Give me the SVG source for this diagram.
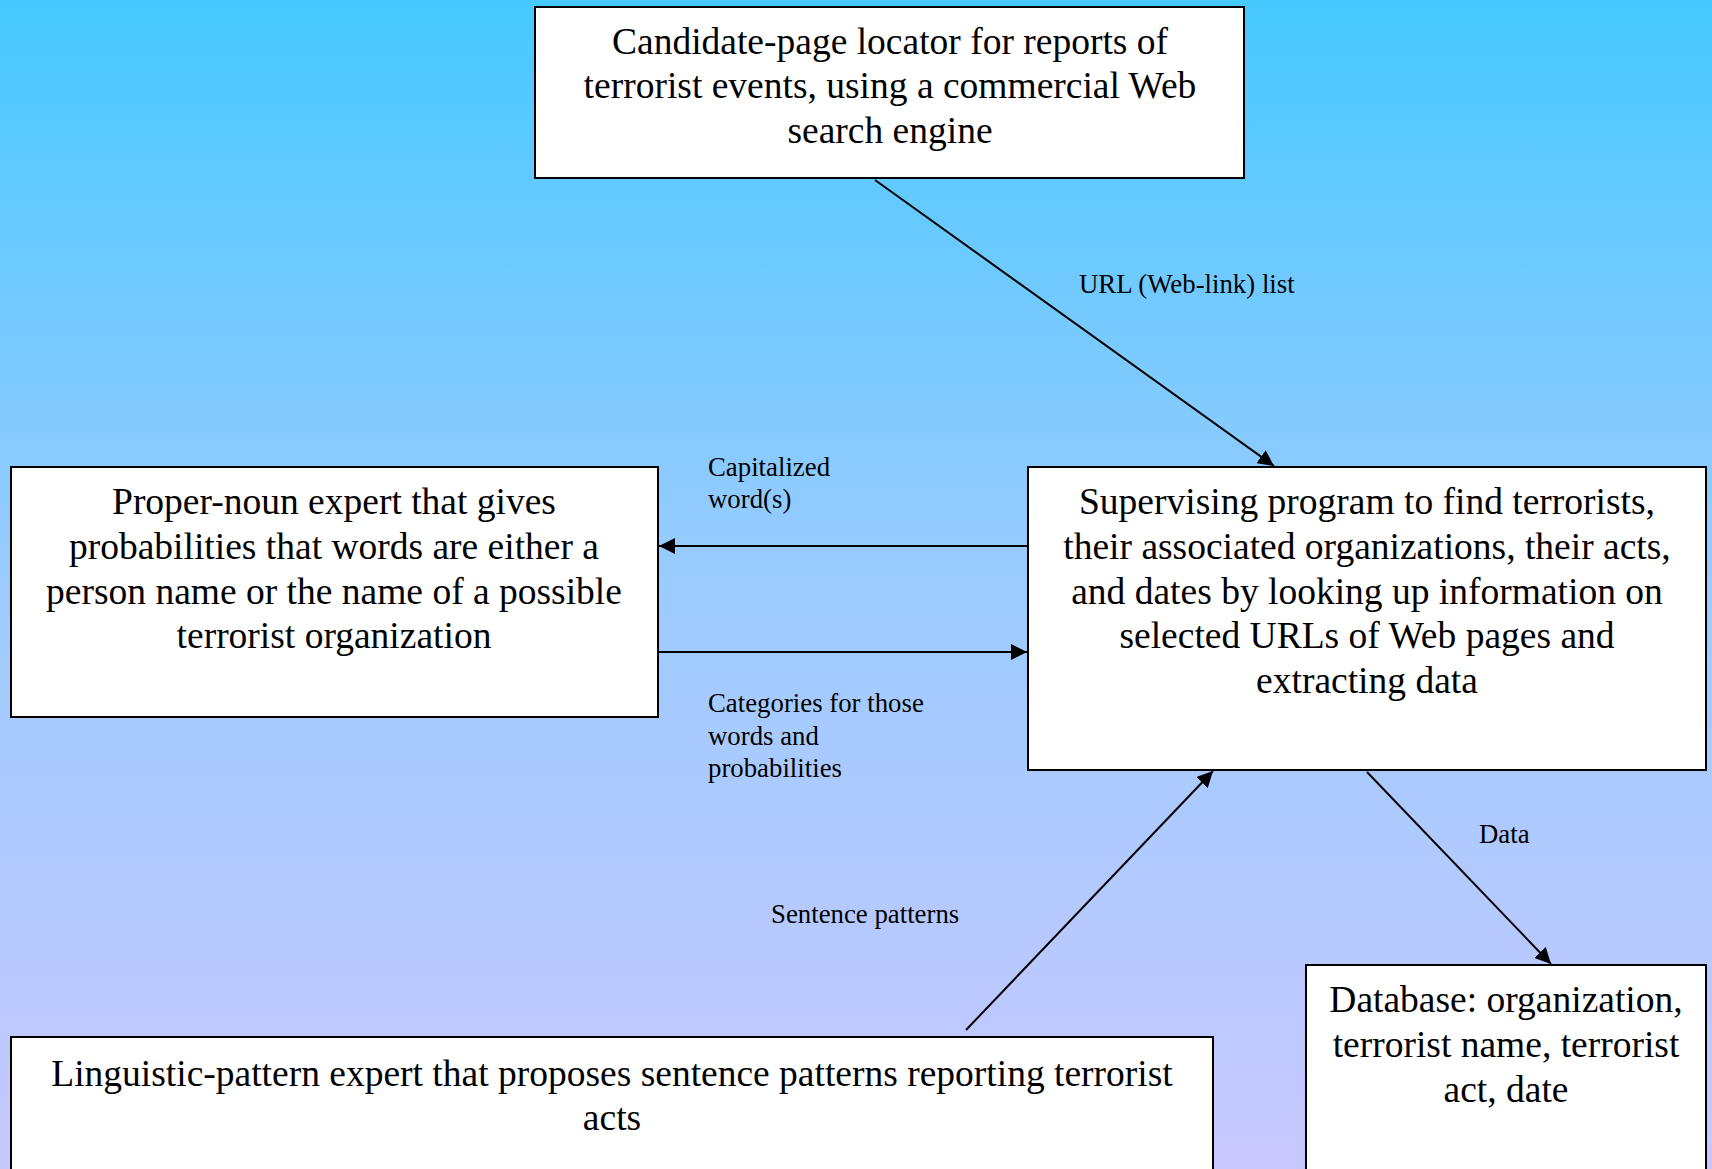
<svg xmlns="http://www.w3.org/2000/svg" width="1712" height="1169" viewBox="0 0 1712 1169">
<defs>
<linearGradient id="bg" x1="0" y1="0" x2="0" y2="1">
<stop offset="0" stop-color="#46C9FF"/>
<stop offset="0.5" stop-color="#9CCBFF"/>
<stop offset="1" stop-color="#C8C8FF"/>
</linearGradient>
<marker id="ah" viewBox="0 0 10 10" refX="10" refY="5" markerWidth="16" markerHeight="16" markerUnits="userSpaceOnUse" orient="auto">
<path d="M0,0 L10,5 L0,10 z" fill="#000"/>
</marker>
<style>
.box{fill:#fff;stroke:#000;stroke-width:2}
.big{font-family:"Liberation Serif","Times New Roman",serif;font-size:37.5px;fill:#000;text-anchor:middle}
.lbl{font-family:"Liberation Serif","Times New Roman",serif;font-size:26.8px;fill:#000}
.con{stroke:#000;stroke-width:2;fill:none;marker-end:url(#ah)}
</style>
</defs>
<rect x="0" y="0" width="1712" height="1169" fill="url(#bg)"/>
<g id="locator">
<rect class="box" x="535" y="7" width="709" height="171"/>
<text class="big" x="890" y="54">Candidate-page locator for reports of</text>
<text class="big" x="890" y="98">terrorist events, using a commercial Web</text>
<text class="big" x="890" y="143">search engine</text>
</g>
<g id="propernoun">
<rect class="box" x="11" y="467" width="647" height="250"/>
<text class="big" x="334" y="514">Proper-noun expert that gives</text>
<text class="big" x="334" y="559">probabilities that words are either a</text>
<text class="big" x="334" y="604">person name or the name of a possible</text>
<text class="big" x="334" y="648">terrorist organization</text>
</g>
<g id="supervisor">
<rect class="box" x="1028" y="467" width="678" height="303"/>
<text class="big" x="1367" y="514">Supervising program to find terrorists,</text>
<text class="big" x="1367" y="559">their associated organizations, their acts,</text>
<text class="big" x="1367" y="604">and dates by looking up information on</text>
<text class="big" x="1367" y="648">selected URLs of Web pages and</text>
<text class="big" x="1367" y="693">extracting data</text>
</g>
<g id="linguistic">
<rect class="box" x="11" y="1037" width="1202" height="140"/>
<text class="big" x="612" y="1086">Linguistic-pattern expert that proposes sentence patterns reporting terrorist</text>
<text class="big" x="612" y="1130">acts</text>
</g>
<g id="database">
<rect class="box" x="1306" y="965" width="400" height="212"/>
<text class="big" x="1506" y="1012">Database: organization,</text>
<text class="big" x="1506" y="1057">terrorist name, terrorist</text>
<text class="big" x="1506" y="1102">act, date</text>
</g>
<g id="connectors">
<line class="con" x1="875" y1="180" x2="1274" y2="466"/>
<line class="con" x1="1028" y1="546" x2="659" y2="546"/>
<line class="con" x1="658" y1="652" x2="1027" y2="652"/>
<line class="con" x1="966" y1="1030" x2="1213" y2="771"/>
<line class="con" x1="1367" y1="772" x2="1551" y2="964"/>
<text class="lbl" x="1079" y="293">URL (Web-link) list</text>
<text class="lbl" x="708" y="476">Capitalized</text>
<text class="lbl" x="708" y="508">word(s)</text>
<text class="lbl" x="708" y="712">Categories for those</text>
<text class="lbl" x="708" y="745">words and</text>
<text class="lbl" x="708" y="777">probabilities</text>
<text class="lbl" x="1479" y="843">Data</text>
<text class="lbl" x="771" y="923">Sentence patterns</text>
</g>
</svg>
